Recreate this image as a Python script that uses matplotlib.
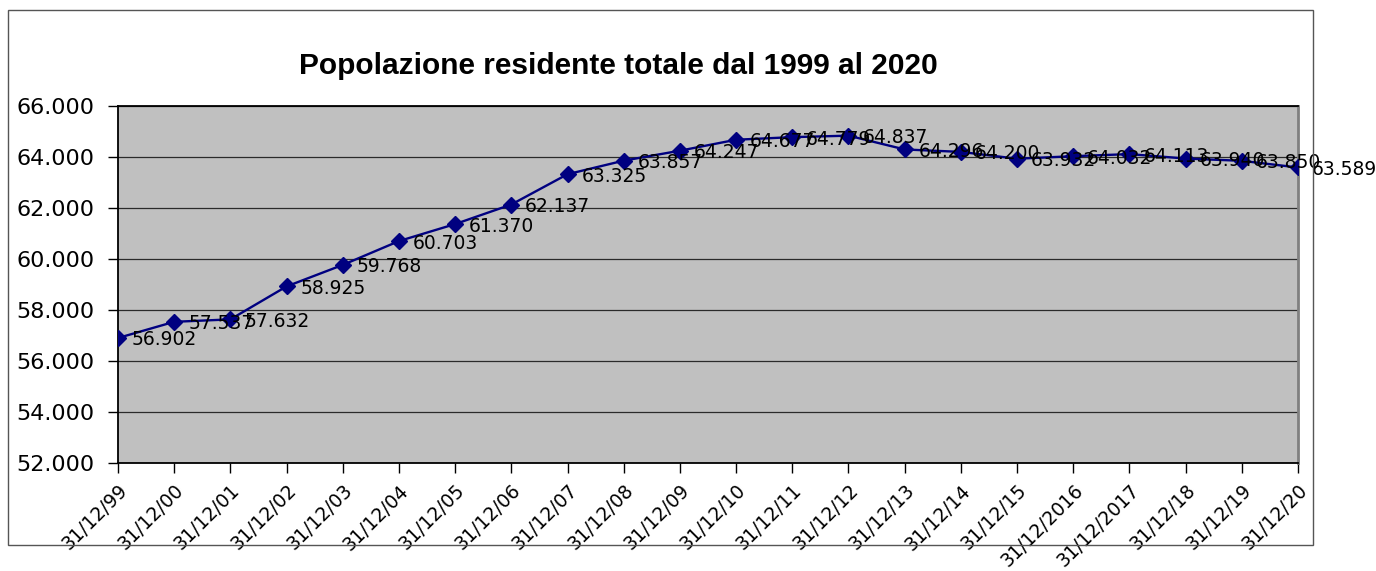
import matplotlib
matplotlib.use('Agg')
import matplotlib.pyplot as plt
from matplotlib.patches import Rectangle

# dati: popolazione residente al 31/12 di ogni anno
date_labels = ['31/12/99', '31/12/00', '31/12/01', '31/12/02', '31/12/03', '31/12/04',
               '31/12/05', '31/12/06', '31/12/07', '31/12/08', '31/12/09', '31/12/10',
               '31/12/11', '31/12/12', '31/12/13', '31/12/14', '31/12/15', '31/12/2016',
               '31/12/2017', '31/12/18', '31/12/19', '31/12/20']
popolazione = [56902, 57537, 57632, 58925, 59768, 60703, 61370, 62137, 63325, 63857, 64247,
               64677, 64779, 64837, 64296, 64200, 63932, 64032, 64113, 63940, 63850, 63589]
y_ticks = [52000, 54000, 56000, 58000, 60000, 62000, 64000, 66000]


def fmt_it(v):
    # separatore delle migliaia con il punto
    return f'{v:,}'.replace(',', '.')


W, H = 1376, 571
fig = plt.figure(figsize=(W / 100, H / 100), dpi=100)
fig.patch.set_facecolor('white')

# bordo dell'area del grafico
fig.patches.append(Rectangle((8 / W, 1 - 545 / H), (1313 - 8) / W, (545 - 10) / H,
                             transform=fig.transFigure, fill=False,
                             edgecolor='#555555', linewidth=1.0))

ax = fig.add_axes([118 / W, 1 - 463 / H, (1298 - 118) / W, (463 - 106) / H])
ax.set_facecolor('#C0C0C0')

x = list(range(len(popolazione)))
ax.plot(x, popolazione, color='#000080', linewidth=1.7, marker='D', markersize=8,
        markerfacecolor='#000080', markeredgecolor='#000080', zorder=3)

for xi, v in zip(x, popolazione):
    ax.annotate(fmt_it(v), (xi, v), xytext=(10, 0), textcoords='offset points',
                ha='left', va='center_baseline', fontsize=13.5, color='black',
                family='DejaVu Sans', annotation_clip=False, zorder=4)

ax.set_xlim(0, len(popolazione) - 1)
ax.set_ylim(52000, 66000)
ax.set_yticks(y_ticks)
ax.set_yticklabels([fmt_it(v) for v in y_ticks], fontsize=16, family='DejaVu Sans')
ax.set_xticks(x)
ax.set_xticklabels(date_labels, rotation=45, ha='right', va='top', rotation_mode='anchor',
                   fontsize=13.5, family='DejaVu Sans')
ax.tick_params(axis='both', direction='out', length=7, width=1, color='black')
ax.tick_params(axis='x', pad=6)
ax.tick_params(axis='y', pad=10)

ax.grid(axis='y', color='#2a2a2a', linewidth=0.9)
ax.set_axisbelow(True)

for s in ['left', 'bottom', 'top']:
    ax.spines[s].set_color('black')
    ax.spines[s].set_linewidth(1.3)
ax.spines['right'].set_color('#808080')
ax.spines['right'].set_linewidth(2)

fig.text(618 / W, 1 - 66 / H, 'Popolazione residente totale dal 1999 al 2020',
         ha='center', va='center', fontsize=21.5, fontweight='bold', family='Liberation Sans')

fig.savefig('out.png', dpi=100)
